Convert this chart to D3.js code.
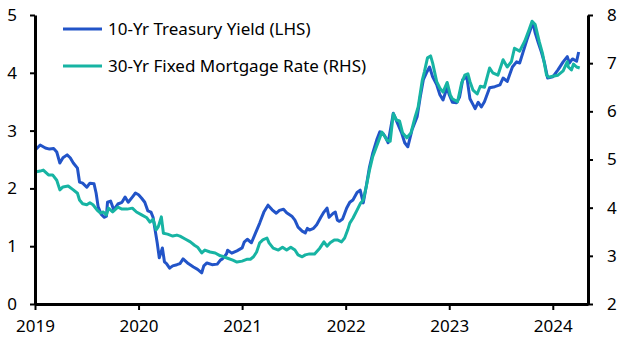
<!DOCTYPE html>
<html>
<head>
<meta charset="utf-8">
<script src="https://cdn.jsdelivr.net/npm/d3@7"></script>
<style>
  body { margin: 0; background: #fff; }
  #chart text { font-family: "Noto Sans", sans-serif; fill: #000; }
</style>
</head>
<body>
<div id="chart"></div>
<script>
// 10-yr treasury yield (LHS), decimal years
var tsyYears = [2019.00, 2019.05, 2019.10, 2019.14, 2019.18, 2019.21, 2019.24, 2019.27, 2019.31, 2019.34,
  2019.37, 2019.41, 2019.43, 2019.46, 2019.50, 2019.53, 2019.57, 2019.59, 2019.61, 2019.64,
  2019.67, 2019.69, 2019.70, 2019.73, 2019.76, 2019.80, 2019.84, 2019.87, 2019.90, 2019.94,
  2019.97, 2020.00, 2020.03, 2020.06, 2020.09, 2020.12, 2020.14, 2020.16, 2020.18, 2020.20,
  2020.23, 2020.25, 2020.27, 2020.30, 2020.33, 2020.37, 2020.40, 2020.43, 2020.48, 2020.53,
  2020.57, 2020.61, 2020.63, 2020.66, 2020.71, 2020.76, 2020.79, 2020.81, 2020.85, 2020.86,
  2020.90, 2020.95, 2021.00, 2021.02, 2021.05, 2021.09, 2021.13, 2021.17, 2021.21, 2021.25,
  2021.29, 2021.33, 2021.36, 2021.40, 2021.43, 2021.48, 2021.51, 2021.54, 2021.58, 2021.61,
  2021.63, 2021.65, 2021.69, 2021.72, 2021.76, 2021.79, 2021.82, 2021.84, 2021.88, 2021.90,
  2021.92, 2021.94, 2021.97, 2022.01, 2022.04, 2022.07, 2022.11, 2022.14, 2022.17, 2022.20,
  2022.23, 2022.26, 2022.30, 2022.33, 2022.36, 2022.38, 2022.41, 2022.46, 2022.50, 2022.54,
  2022.57, 2022.60, 2022.64, 2022.69, 2022.72, 2022.75, 2022.78, 2022.81, 2022.84, 2022.88,
  2022.91, 2022.94, 2022.98, 2023.00, 2023.03, 2023.07, 2023.10, 2023.13, 2023.17, 2023.20,
  2023.23, 2023.25, 2023.28, 2023.31, 2023.34, 2023.39, 2023.44, 2023.49, 2023.52, 2023.56,
  2023.59, 2023.61, 2023.65, 2023.68, 2023.71, 2023.75, 2023.79, 2023.81, 2023.83, 2023.86,
  2023.89, 2023.92, 2023.95, 2024.00, 2024.05, 2024.10, 2024.14, 2024.16, 2024.19, 2024.23,
  2024.25];
var tsyValues = [2.66, 2.75, 2.70, 2.68, 2.69, 2.63, 2.44, 2.53, 2.58, 2.53,
  2.44, 2.35, 2.11, 2.09, 2.02, 2.09, 2.08, 1.92, 1.68, 1.55,
  1.50, 1.52, 1.76, 1.78, 1.63, 1.73, 1.76, 1.85, 1.76, 1.85,
  1.92, 1.89, 1.83, 1.76, 1.61, 1.59, 1.50, 1.28, 1.06, 0.80,
  0.97, 0.73, 0.70, 0.62, 0.66, 0.68, 0.70, 0.78, 0.70, 0.64,
  0.60, 0.54, 0.66, 0.71, 0.68, 0.69, 0.76, 0.78, 0.87, 0.93,
  0.88, 0.92, 0.97, 1.07, 1.12, 1.06, 1.23, 1.40, 1.59, 1.71,
  1.63, 1.57, 1.62, 1.64, 1.58, 1.52, 1.45, 1.33, 1.26, 1.23,
  1.31, 1.28, 1.31, 1.37, 1.50, 1.59, 1.66, 1.50, 1.57, 1.59,
  1.45, 1.43, 1.47, 1.66, 1.76, 1.80, 1.93, 1.97, 1.75, 2.05,
  2.37, 2.60, 2.84, 2.98, 2.95, 2.90, 2.79, 3.30, 3.13, 2.96,
  2.79, 2.72, 3.01, 3.24, 3.58, 3.88, 4.00, 4.10, 3.93, 3.79,
  3.62, 3.53, 3.75, 3.62, 3.49, 3.48, 3.58, 3.88, 3.93, 3.55,
  3.45, 3.38, 3.49, 3.41, 3.50, 3.74, 3.76, 3.79, 3.91, 3.85,
  4.00, 4.10, 4.19, 4.17, 4.34, 4.57, 4.78, 4.86, 4.69, 4.52,
  4.36, 4.17, 3.91, 3.93, 4.05, 4.19, 4.28, 4.17, 4.24, 4.20,
  4.36];

// 30-yr fixed mortgage rate (RHS), decimal years
var mtgYears = [2019.00, 2019.05, 2019.08, 2019.13, 2019.17, 2019.21, 2019.24, 2019.27, 2019.32, 2019.37,
  2019.41, 2019.43, 2019.46, 2019.50, 2019.53, 2019.56, 2019.60, 2019.63, 2019.66, 2019.69,
  2019.71, 2019.75, 2019.80, 2019.84, 2019.89, 2019.94, 2019.98, 2020.03, 2020.08, 2020.11,
  2020.14, 2020.17, 2020.19, 2020.22, 2020.24, 2020.28, 2020.33, 2020.37, 2020.40, 2020.45,
  2020.50, 2020.54, 2020.57, 2020.61, 2020.64, 2020.69, 2020.74, 2020.79, 2020.81, 2020.86,
  2020.91, 2020.95, 2021.00, 2021.05, 2021.08, 2021.11, 2021.14, 2021.17, 2021.20, 2021.24,
  2021.26, 2021.30, 2021.35, 2021.39, 2021.43, 2021.47, 2021.51, 2021.54, 2021.58, 2021.61,
  2021.65, 2021.70, 2021.75, 2021.79, 2021.82, 2021.85, 2021.89, 2021.92, 2021.96, 2021.99,
  2022.02, 2022.04, 2022.07, 2022.11, 2022.14, 2022.17, 2022.20, 2022.23, 2022.26, 2022.31,
  2022.35, 2022.40, 2022.43, 2022.46, 2022.49, 2022.52, 2022.55, 2022.59, 2022.63, 2022.67,
  2022.70, 2022.74, 2022.76, 2022.79, 2022.82, 2022.84, 2022.88, 2022.91, 2022.94, 2022.98,
  2023.01, 2023.03, 2023.08, 2023.12, 2023.15, 2023.18, 2023.20, 2023.23, 2023.27, 2023.30,
  2023.34, 2023.39, 2023.42, 2023.47, 2023.52, 2023.56, 2023.60, 2023.63, 2023.68, 2023.73,
  2023.77, 2023.80, 2023.83, 2023.87, 2023.90, 2023.94, 2023.96, 2024.00, 2024.05, 2024.10,
  2024.14, 2024.15, 2024.18, 2024.20, 2024.23, 2024.26];
var mtgValues = [4.74, 4.76, 4.78, 4.68, 4.68, 4.57, 4.37, 4.43, 4.45, 4.37,
  4.30, 4.16, 4.08, 4.06, 4.10, 4.06, 3.95, 3.89, 3.91, 3.85,
  3.99, 3.91, 4.01, 3.97, 3.97, 3.99, 3.91, 3.85, 3.79, 3.70,
  3.76, 3.54, 3.60, 3.81, 3.47, 3.45, 3.41, 3.43, 3.41, 3.35,
  3.29, 3.22, 3.18, 3.06, 3.12, 3.08, 3.06, 3.00, 2.99, 2.95,
  2.91, 2.87, 2.89, 2.93, 2.93, 2.98, 3.08, 3.27, 3.33, 3.37,
  3.27, 3.16, 3.12, 3.18, 3.12, 3.18, 3.12, 3.02, 2.98, 3.02,
  3.04, 3.04, 3.16, 3.29, 3.20, 3.27, 3.33, 3.33, 3.29, 3.37,
  3.54, 3.68, 3.78, 3.95, 4.08, 4.16, 4.45, 4.78, 5.05, 5.34,
  5.57, 5.40, 5.38, 5.95, 5.82, 5.80, 5.55, 5.45, 5.55, 5.88,
  6.09, 6.65, 6.82, 7.11, 7.15, 7.00, 6.61, 6.48, 6.40, 6.60,
  6.34, 6.26, 6.20, 6.59, 6.75, 6.78, 6.62, 6.44, 6.36, 6.52,
  6.50, 6.90, 6.80, 6.75, 7.07, 6.92, 7.03, 7.31, 7.25, 7.46,
  7.69, 7.87, 7.80, 7.44, 7.21, 6.75, 6.71, 6.73, 6.75, 6.84,
  7.03, 6.92, 6.86, 6.98, 6.92, 6.90];

var yearTicks = [2019, 2020, 2021, 2022, 2023, 2024];
var leftTicks = [0, 1, 2, 3, 4, 5];
var rightTicks = [2, 3, 4, 5, 6, 7, 8];
var seriesNames = ["10-Yr Treasury Yield (LHS)", "30-Yr Fixed Mortgage Rate (RHS)"];
var seriesColors = ["#2254c8", "#17b4a3"];

var margin = { top: 15, right: 43, bottom: 49, left: 35 };
var width = 631 - margin.left - margin.right;
var height = 353 - margin.top - margin.bottom;

var svg = d3.select("#chart")
  .append("svg")
  .attr("width", 631)
  .attr("height", 353)
  .append("g")
  .attr("transform", `translate(${margin.left},${margin.top})`);

var x = d3.scaleLinear().domain([2019, 2024.34]).range([0, width]);
var yL = d3.scaleLinear().domain([0, 5]).range([height, 0]);
var yR = d3.scaleLinear().domain([2, 8]).range([height, 0]);

// lines
var tsyData = tsyYears.map((t, i) => ({ t: t, v: tsyValues[i] }));
var mtgData = mtgYears.map((t, i) => ({ t: t, v: mtgValues[i] }));

svg.append("path")
  .datum(tsyData)
  .attr("fill", "none")
  .attr("stroke", seriesColors[0])
  .attr("stroke-width", 3)
  .attr("stroke-linejoin", "round")
  .attr("d", d3.line().x(d => x(d.t)).y(d => yL(d.v)));

svg.append("path")
  .datum(mtgData)
  .attr("fill", "none")
  .attr("stroke", seriesColors[1])
  .attr("stroke-width", 3)
  .attr("stroke-linejoin", "round")
  .attr("d", d3.line().x(d => x(d.t)).y(d => yR(d.v)));

// axes
function styleAxis(g) {
  g.select(".domain").attr("stroke", "#000").attr("stroke-width", 3);
  g.selectAll(".tick line").attr("stroke", "#000").attr("stroke-width", 2);
  g.selectAll(".tick text").style("font-size", "17px").style("font-family", "Noto Sans, sans-serif");
}

svg.append("g")
  .call(d3.axisLeft(yL).tickValues(leftTicks).tickFormat(d3.format("d"))
    .tickSize(5).tickSizeOuter(0).tickPadding(13))
  .call(styleAxis);

svg.append("g")
  .attr("transform", `translate(${width},0)`)
  .call(d3.axisRight(yR).tickValues(rightTicks).tickFormat(d3.format("d"))
    .tickSize(5).tickSizeOuter(0).tickPadding(14))
  .call(styleAxis);

svg.append("g")
  .attr("transform", `translate(0,${height})`)
  .call(d3.axisBottom(x).tickValues(yearTicks).tickFormat(d3.format("d"))
    .tickSize(6).tickSizeOuter(0).tickPadding(10))
  .call(styleAxis);

// legend
var legend = svg.append("g").attr("transform", "translate(28,14)");
seriesNames.forEach((name, i) => {
  var row = legend.append("g").attr("transform", `translate(0,${i * 37})`);
  row.append("line")
    .attr("x1", 0).attr("x2", 39)
    .attr("stroke", seriesColors[i]).attr("stroke-width", 3);
  row.append("text")
    .attr("x", 45).attr("dy", "0.35em")
    .style("font-size", "17px")
    .text(name);
});
</script>
</body>
</html>
